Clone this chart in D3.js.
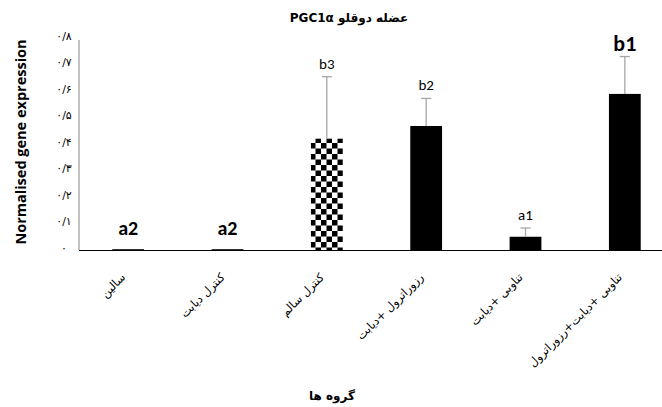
<!DOCTYPE html>
<html>
<head>
<meta charset="utf-8">
<script src="https://cdn.jsdelivr.net/npm/d3@7"></script>
<style>
  body{margin:0;background:#fff;}
  svg{display:block;}
</style>
</head>
<body>
<div id="chart"></div>
<script>
// groups, means, error (SD) and significance letters
var categories = ["سالین", "کنترل دیابت", "کنترل سالم", "رزوراترول +دیابت", "تناوبی +دیابت", "تناوبی +دیابت+رزوراترول"];
var means = [0.003, 0.003, 0.42, 0.468, 0.05, 0.589];
var errors = [0, 0, 0.234, 0.104, 0.033, 0.141];
var letters = ["a2", "a2", "b3", "b2", "a1", "b1"];
var letterBold = [true, true, false, false, false, true];
var yTicks = [0, 0.1, 0.2, 0.3, 0.4, 0.5, 0.6, 0.7, 0.8];
var yTickLabels = ["۰", "۰/۱", "۰/۲", "۰/۳", "۰/۴", "۰/۵", "۰/۶", "۰/۷", "۰/۸"];

var W = 662, H = 407;
var faFont = "'DejaVu Sans', 'Noto Sans', sans-serif";
var enFont = "Carlito, 'Open Sans', 'Noto Sans', sans-serif";

var rows = categories.map(function(c, i){
  return {cat: c, mean: means[i], err: errors[i], letter: letters[i], bold: letterBold[i], idx: i};
});

var svg = d3.select("#chart").append("svg")
    .attr("width", W).attr("height", H);

// checker pattern for the healthy control bar
var pat = svg.append("defs").append("pattern")
    .attr("id", "checker")
    .attr("patternUnits", "userSpaceOnUse")
    .attr("x", 310).attr("y", 0)
    .attr("width", 11).attr("height", 11);
pat.append("rect").attr("width", 11).attr("height", 11).attr("fill", "#fff");
pat.append("rect").attr("width", 5.5).attr("height", 5.5).attr("fill", "#000");
pat.append("rect").attr("x", 5.5).attr("y", 5.5).attr("width", 5.5).attr("height", 5.5).attr("fill", "#000");

var x = d3.scaleBand()
    .domain(categories)
    .range([78.5, 674.5])
    .paddingInner(0.68)
    .paddingOuter(0.34);

var y = d3.scaleLinear()
    .domain([0, 0.8])
    .range([250, 38]);

function cx(d){ return x(d.cat) + x.bandwidth() / 2; }

// y axis line
svg.append("line")
    .attr("x1", 79).attr("x2", 79)
    .attr("y1", 40).attr("y2", y(0))
    .attr("stroke", "#868686").attr("stroke-width", 1);

// y tick labels
svg.selectAll(".ytick")
    .data(yTicks)
    .enter().append("text")
    .attr("class", "ytick")
    .attr("x", 64)
    .attr("y", function(d){ return y(d) - 2; })
    .attr("dy", "0.35em")
    .attr("text-anchor", "middle")
    .attr("font-family", faFont)
    .attr("font-size", 11)
    .attr("fill", "#000")
    .text(function(d, i){ return yTickLabels[i]; });

// bars
svg.selectAll(".bar")
    .data(rows)
    .enter().append("rect")
    .attr("class", "bar")
    .attr("x", function(d){ return x(d.cat); })
    .attr("width", x.bandwidth())
    .attr("y", function(d){ return y(d.mean); })
    .attr("height", function(d){ return y(0) - y(d.mean); })
    .attr("fill", function(d){ return d.idx == 2 ? "url(#checker)" : "#000"; });

// x axis line
svg.append("line")
    .attr("x1", 79).attr("x2", W)
    .attr("y1", y(0) + 0.5).attr("y2", y(0) + 0.5)
    .attr("stroke", "#000").attr("stroke-width", 1.2);

// error bars
var withErr = rows.filter(function(d){ return d.err > 0; });
var eg = svg.selectAll(".err")
    .data(withErr)
    .enter().append("g")
    .attr("class", "err");
eg.append("line")
    .attr("x1", cx).attr("x2", cx)
    .attr("y1", function(d){ return y(d.mean); })
    .attr("y2", function(d){ return y(d.mean + d.err); })
    .attr("stroke", "#a6a6a6").attr("stroke-width", 1.3);
eg.append("line")
    .attr("x1", function(d){ return cx(d) - 5; })
    .attr("x2", function(d){ return cx(d) + 5; })
    .attr("y1", function(d){ return y(d.mean + d.err); })
    .attr("y2", function(d){ return y(d.mean + d.err); })
    .attr("stroke", "#a6a6a6").attr("stroke-width", 1.3);

// significance letters
svg.selectAll(".letter")
    .data(rows)
    .enter().append("text")
    .attr("class", "letter")
    .attr("x", cx)
    .attr("y", function(d){
      if (d.err == 0) return 235;
      return y(d.mean + d.err) - (d.bold ? 6 : 8);
    })
    .attr("text-anchor", "middle")
    .attr("font-family", enFont)
    .attr("font-weight", function(d){ return d.bold ? "bold" : "normal"; })
    .attr("font-size", function(d){ return d.idx == 5 ? 22 : (d.bold ? 20 : 15); })
    .attr("fill", "#000")
    .text(function(d){ return d.letter; });

// x tick labels, rotated
svg.selectAll(".xtick")
    .data(rows)
    .enter().append("text")
    .attr("class", "xtick")
    .attr("transform", function(d){
      return "translate(" + (cx(d) - 2) + ",278) rotate(-45)";
    })
    .attr("text-anchor", "end")
    .attr("font-family", faFont)
    .attr("font-size", 11.5)
    .attr("fill", "#000")
    .text(function(d){ return d.cat; });

// chart title
svg.append("text")
    .attr("x", 349).attr("y", 22)
    .attr("text-anchor", "middle")
    .attr("font-family", faFont)
    .attr("font-weight", "bold")
    .attr("font-size", 12)
    .text("PGC1α عضله دوقلو");

// y axis title
svg.append("text")
    .attr("transform", "translate(26,142) rotate(-90)")
    .attr("text-anchor", "middle")
    .attr("font-family", "'Open Sans', 'Noto Sans', sans-serif")
    .attr("font-weight", "bold")
    .attr("font-size", 14.5)
    .text("Normalised gene expression");

// x axis title
svg.append("text")
    .attr("x", 332).attr("y", 400)
    .attr("text-anchor", "middle")
    .attr("font-family", faFont)
    .attr("font-weight", "bold")
    .attr("font-size", 12)
    .text("گروه ها");
</script>
</body>
</html>
